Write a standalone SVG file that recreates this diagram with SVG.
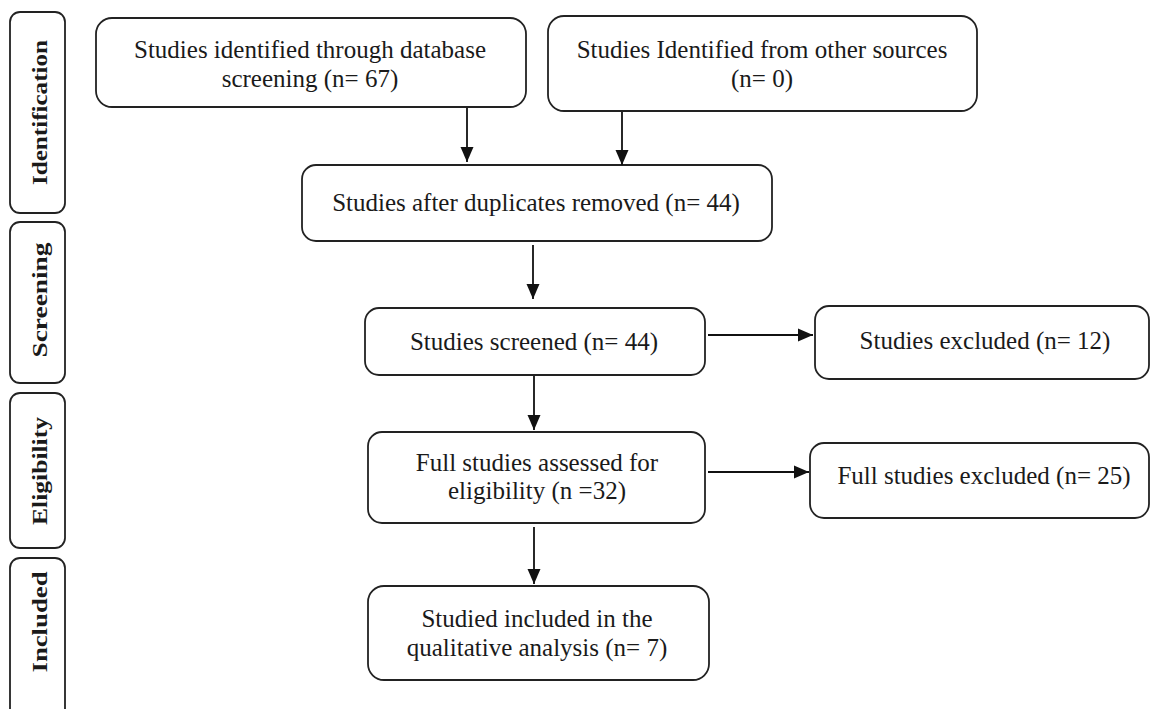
<svg xmlns="http://www.w3.org/2000/svg" width="1151" height="709" viewBox="0 0 1151 709">
<style>
.box{fill:#fff;stroke:#222;stroke-width:1.8}
.t{font-family:"Liberation Serif","Times New Roman",serif;font-size:25px;fill:#1a1a1a;text-anchor:middle}
.s{font-family:"Liberation Serif","Times New Roman",serif;font-size:20px;font-weight:bold;fill:#1a1a1a;text-anchor:middle}
.c{stroke:#111;stroke-width:1.8;fill:none;marker-end:url(#ah)}
</style>
<defs>
<marker id="ah" markerUnits="userSpaceOnUse" markerWidth="16" markerHeight="16" viewBox="0 0 16 16" refX="15" refY="8" orient="auto">
<path d="M0,1.5 L15,8 L0,14.5 Z" fill="#111"/>
</marker>
</defs>
<rect width="1151" height="709" fill="#fff"/>
<g id="stage-identification"><rect class="box" x="10" y="12" width="55" height="201" rx="10"/><text class="s" transform="translate(47,112.5) rotate(-90)" textLength="145" lengthAdjust="spacingAndGlyphs">Identification</text></g>
<g id="stage-screening"><rect class="box" x="10" y="222" width="55" height="161" rx="10"/><text class="s" transform="translate(47,300) rotate(-90)" textLength="115" lengthAdjust="spacingAndGlyphs">Screening</text></g>
<g id="stage-eligibility"><rect class="box" x="10" y="393" width="55" height="155" rx="10"/><text class="s" transform="translate(47,471) rotate(-90)" textLength="108" lengthAdjust="spacingAndGlyphs">Eligibility</text></g>
<g id="stage-included"><rect class="box" x="10" y="558" width="55" height="170" rx="10"/><text class="s" transform="translate(47,622) rotate(-90)" textLength="101" lengthAdjust="spacingAndGlyphs">Included</text></g>

<g id="n-database"><rect class="box" x="96" y="18" width="430" height="89" rx="16"/><text class="t" x="310" y="58">Studies identified through database</text><text class="t" x="310" y="87">screening (n= 67)</text></g>
<g id="n-other"><rect class="box" x="548" y="16" width="429" height="95" rx="16"/><text class="t" x="762" y="58">Studies Identified from other sources</text><text class="t" x="762" y="87">(n= 0)</text></g>
<g id="n-dupes"><rect class="box" x="302" y="165" width="470" height="76" rx="14"/><text class="t" x="536" y="211">Studies after duplicates removed (n= 44)</text></g>
<g id="n-screened"><rect class="box" x="365" y="308" width="340" height="67" rx="14"/><text class="t" x="534" y="350">Studies screened (n= 44)</text></g>
<g id="n-excluded"><rect class="box" x="815" y="306" width="334" height="73" rx="14"/><text class="t" x="985" y="349">Studies excluded (n= 12)</text></g>
<g id="n-full"><rect class="box" x="368" y="432" width="337" height="91" rx="14"/><text class="t" x="537" y="471">Full studies assessed for</text><text class="t" x="537" y="499">eligibility (n =32)</text></g>
<g id="n-fullexcl"><rect class="box" x="810" y="443" width="339" height="75" rx="14"/><text class="t" x="984" y="484">Full studies excluded (n= 25)</text></g>
<g id="n-included"><rect class="box" x="368" y="586" width="341" height="94" rx="16"/><text class="t" x="537" y="627">Studied included in the</text><text class="t" x="537" y="656">qualitative analysis (n= 7)</text></g>

<g id="connectors">
<line class="c" x1="467" y1="108" x2="467" y2="162"/>
<line class="c" x1="622" y1="112" x2="622" y2="165"/>
<line class="c" x1="533" y1="245" x2="533" y2="299"/>
<line class="c" x1="534" y1="376" x2="534" y2="430"/>
<line class="c" x1="534" y1="527" x2="534" y2="584"/>
<line class="c" x1="708" y1="335" x2="813" y2="335"/>
<line class="c" x1="708" y1="472" x2="809" y2="472"/>
</g>
</svg>
